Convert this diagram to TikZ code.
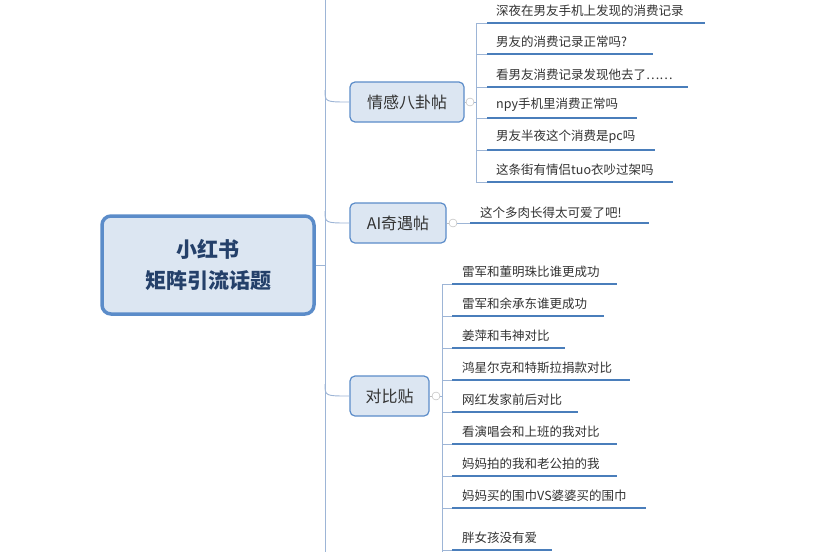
\documentclass[tikz,border=0pt]{standalone}
\usepackage{fontspec}
\setmainfont{Noto Sans CJK SC}
\begin{document}
\begin{tikzpicture}[x=1pt,y=-1pt,
  rootbox/.style={draw=rootblue,line width=3.5pt,fill=boxfill,rounded corners=9pt,minimum width=212pt,minimum height=98pt,align=center,font=\fontsize{21}{31}\selectfont\bfseries,text=titleblue},
  branchbox/.style={draw=rootblue,line width=1.2pt,fill=boxfill,rounded corners=5pt,minimum height=40pt,inner xsep=8pt,font=\fontsize{16}{18}\selectfont,text=darktext},
  leaf/.style={anchor=south west,inner sep=2pt,font=\fontsize{12.5}{14}\selectfont,text=darktext},
  uline/.style={draw=leafblue,line width=2.6pt},
  conn/.style={draw=connblue,line width=0.9pt},
  knob/.style={circle,draw=gray!60,inner sep=0pt,minimum size=8pt}]
\definecolor{rootblue}{HTML}{5B8CC9}
\definecolor{boxfill}{HTML}{DCE6F2}
\definecolor{titleblue}{HTML}{24406A}
\definecolor{darktext}{HTML}{333333}
\definecolor{leafblue}{HTML}{4A7EBB}
\definecolor{connblue}{HTML}{9DB5D6}
\useasboundingbox (0,0) rectangle (826,552);
\fill[white] (0,0) rectangle (826,552);
% trunk
\coordinate (ttop) at (325,0);
\coordinate (tbot) at (325,552);
\draw[conn] (ttop) -- (tbot);
\node[rootbox] (root) at (208,265) {小红书\\矩阵引流话题};
\coordinate (tr) at (325,265);
\draw[conn] (root.east) -- (tr);
% branches
\node[branchbox,minimum width=114pt] (b1) at (407,102) {情感八卦帖};
\node[branchbox,minimum width=96pt] (b2) at (398,223) {AI奇遇帖};
\node[branchbox,minimum width=79pt] (b3) at (389.5,396) {对比贴};
\foreach \b/\y in {b1/102,b2/223,b3/396}{
  \draw[conn] (325,\y-12) .. controls (325,\y) .. (\b.west);
}
\node[knob] (k1) at (470,102) {};
\node[knob] (k2) at (453,223) {};
\node[knob] (k3) at (436,396) {};
\draw[conn,gray!50] (b1.east) -- (k1.west);
\draw[conn,gray!50] (b2.east) -- (k2.west);
\draw[conn,gray!50] (b3.east) -- (k3.west);
% branch 1 leaves
\coordinate (v1t) at (476,23); \coordinate (v1b) at (476,182);
\draw[conn] (v1t) -- (v1b);
\draw[conn] (k1.east) -- (476,102);
\foreach \y/\e/\t in {23/705/深夜在男友手机上发现的消费记录,54/653/男友的消费记录正常吗?,87/688/看男友消费记录发现他去了……,118/637/npy手机里消费正常吗,150/655/男友半夜这个消费是pc吗,182/673/这条街有情侣tuo衣吵过架吗}{
  \draw[conn] (476,\y) -- (487,\y);
  \draw[uline] (487,\y) -- (\e,\y);
  \node[leaf] at (494,\y-4) {\t};
}
% branch 2 leaf
\draw[conn] (k2.east) -- (470,223);
\draw[uline] (470,223) -- (649,223);
\node[leaf] at (478,221) {这个多肉长得太可爱了吧!};
% branch 3 leaves
\coordinate (v3t) at (442,284); \coordinate (v3b) at (442,552);
\draw[conn] (v3t) -- (v3b);
\draw[conn] (k3.east) -- (442,396);
\foreach \y/\e/\t in {284/617/雷军和董明珠比谁更成功,316/604/雷军和余承东谁更成功,348/565/姜萍和韦神对比,380/630/鸿星尔克和特斯拉捐款对比,412/578/网红发家前后对比,444/617/看演唱会和上班的我对比,476/617/妈妈拍的我和老公拍的我,508/646/妈妈买的围巾VS婆婆买的围巾,550/552/胖女孩没有爱}{
  \draw[conn] (442,\y) -- (452,\y);
  \draw[uline] (452,\y) -- (\e,\y);
  \node[leaf] at (460,\y-4) {\t};
}
\end{tikzpicture}
\end{document}
